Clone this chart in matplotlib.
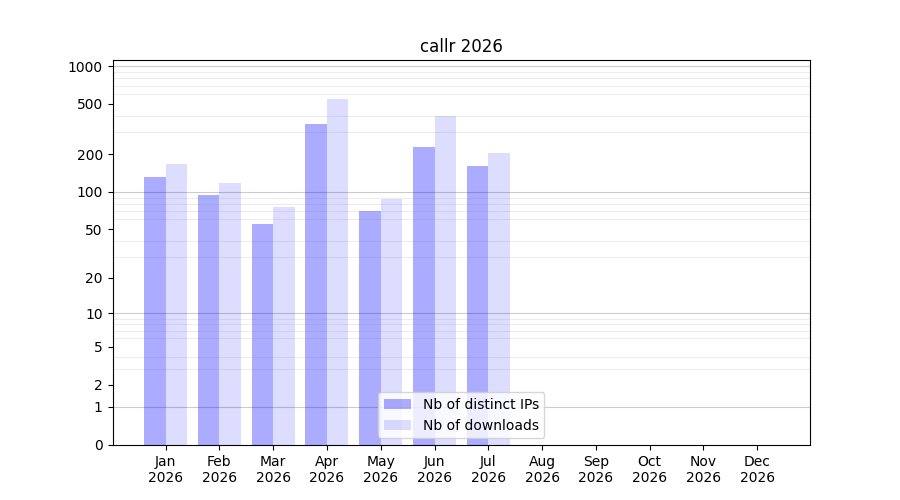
import numpy as np
import matplotlib
matplotlib.use('Agg')
from matplotlib import pyplot as plt

months = ['Jan', 'Feb', 'Mar', 'Apr', 'May', 'Jun', 'Jul', 'Aug', 'Sep', 'Oct', 'Nov', 'Dec']
year = '2026'
distinct_ips = [131, 94, 55, 345, 70, 227, 160]
downloads = [166, 117, 75, 546, 87, 400, 203]

y_ticks = [0, 1, 2, 5, 10, 20, 50, 100, 200, 500, 1000]
y_top = 1116


def forward(y):
    return np.log10(1 + np.clip(y, 0, None))


def inverse(y):
    return 10 ** y - 1


fig, ax = plt.subplots(figsize=(9, 5), dpi=100)
ax.set_yscale('function', functions=(forward, inverse))

x = np.arange(len(distinct_ips))
ax.bar(x, distinct_ips, width=-0.4, align='edge', color='blue', alpha=0.33,
       label='Nb of distinct IPs')
ax.bar(x, downloads, width=0.4, align='edge', color='blue', alpha=0.135,
       label='Nb of downloads')

ax.set_xticks(np.arange(len(months)))
ax.set_xticklabels([m + '\n' + year for m in months])
ax.set_xlim(-0.986, len(months) - 1 + 0.98)

ax.set_ylim(0, y_top)
ax.set_yticks(y_ticks)
ax.set_yticklabels([str(v) for v in y_ticks])
minor = [m * 10 ** e for e in range(0, 4) for m in range(2, 10)]
ax.set_yticks([v for v in minor if v < y_top], minor=True)
ax.tick_params(axis='y', which='minor', length=0)
ax.grid(True, which='minor', axis='y', color='gray', alpha=0.14, lw=0.8)
for v in [1, 10, 100, 1000]:
    ax.axhline(v, color='gray', alpha=0.4, lw=0.8, zorder=0.5)

ax.set_title('callr ' + year)
ax.legend(loc='lower center')

plt.savefig('out.png')
